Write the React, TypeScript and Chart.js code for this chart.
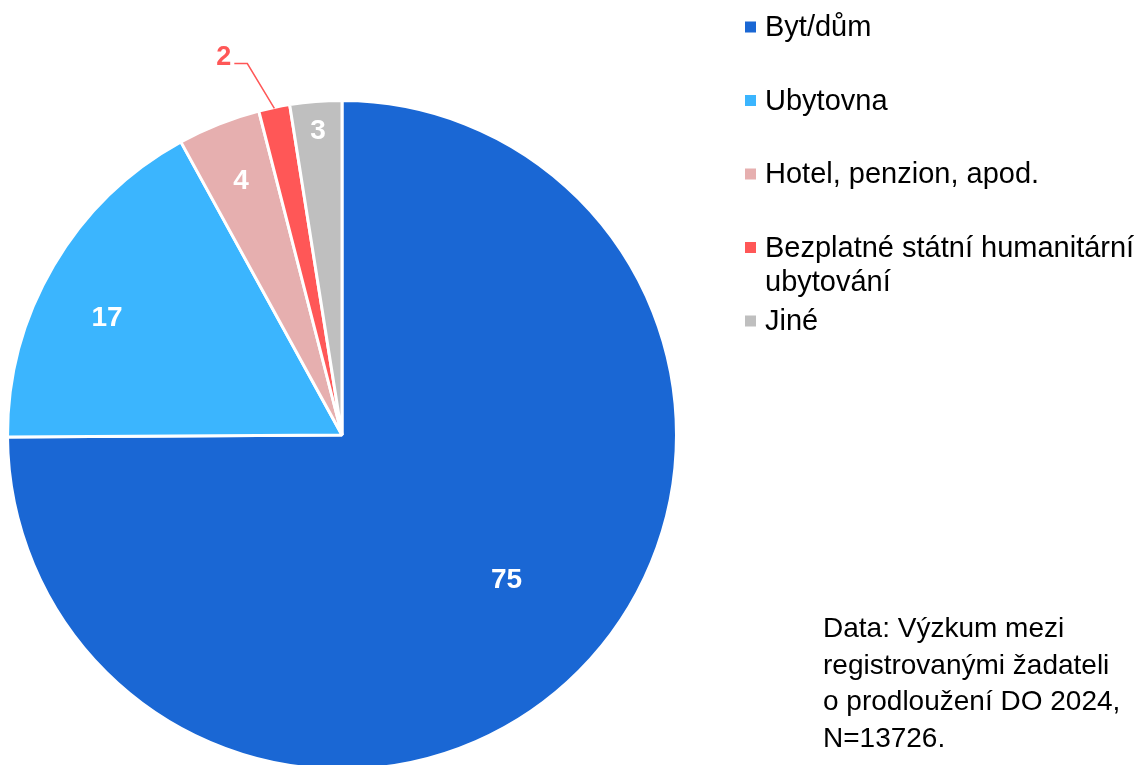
import React, { useEffect, useRef } from "react";
import { Chart, registerables } from "chart.js";

Chart.register(...registerables);

const categories = [
  "Byt/dům",
  "Ubytovna",
  "Hotel, penzion, apod.",
  "Bezplatné státní humanitární ubytování",
  "Jiné",
];
const legendLines = [
  ["Byt/dům"],
  ["Ubytovna"],
  ["Hotel, penzion, apod."],
  ["Bezplatné státní humanitární", "ubytování"],
  ["Jiné"],
];
const values = [74.9, 17.1, 4.0, 1.5, 2.5];
const colors = ["#1A67D4", "#3BB5FE", "#E6AFAF", "#FF5757", "#BFBFBF"];
const noteLines = [
  "Data: Výzkum mezi",
  "registrovanými žadateli",
  "o prodloužení DO 2024,",
  "N=13726.",
];

const FONT = '"Liberation Sans", Arial, sans-serif';

// label placement: [radial fraction, angle offset in degrees, outside]
const labelPlacement: [number, number, boolean][] = [
  [0.655, -3.5, false],
  [0.786, -3.8, false],
  [0.82, 0, false],
  [1.146, -2.6, true],
  [0.915, 0, false],
];

const overlayPlugin = {
  id: "overlay",
  afterDatasetsDraw(chart: any) {
    const ctx = chart.ctx;
    const meta = chart.getDatasetMeta(0);
    ctx.save();
    meta.data.forEach((arc: any, i: number) => {
      const { x, y, startAngle, endAngle, outerRadius } = arc.getProps(
        ["x", "y", "startAngle", "endAngle", "outerRadius"],
        true
      );
      const r = outerRadius;
      const mid = (startAngle + endAngle) / 2;
      const [frac, off, outside] = labelPlacement[i];
      const text = String(Math.round(values[i]));
      if (!outside) {
        const a = mid + (off * Math.PI) / 180;
        ctx.fillStyle = "#FFFFFF";
        ctx.font = `bold 28px ${FONT}`;
        ctx.textAlign = "center";
        ctx.textBaseline = "middle";
        ctx.fillText(text, x + Math.cos(a) * r * frac, y + Math.sin(a) * r * frac + 1);
      } else {
        const a = mid + (off * Math.PI) / 180;
        const sx = x + Math.cos(mid) * (r - 1);
        const sy = y + Math.sin(mid) * (r - 1);
        const ex = x + Math.cos(a) * r * frac;
        const ey = y + Math.sin(a) * r * frac;
        ctx.strokeStyle = colors[i];
        ctx.lineWidth = 1.5;
        ctx.beginPath();
        ctx.moveTo(sx, sy);
        ctx.lineTo(ex, ey);
        ctx.lineTo(ex - 13, ey);
        ctx.stroke();
        ctx.fillStyle = colors[i];
        ctx.font = `bold 27px ${FONT}`;
        ctx.textAlign = "right";
        ctx.textBaseline = "alphabetic";
        ctx.fillText(text, ex - 16, ey + 1);
      }
    });

    // legend
    ctx.font = `29px ${FONT}`;
    ctx.textAlign = "left";
    ctx.textBaseline = "alphabetic";
    legendLines.forEach((lines, i) => {
      const base = 36 + i * 73.5;
      ctx.fillStyle = colors[i];
      ctx.fillRect(745, base - 14.5, 11, 11);
      ctx.fillStyle = "#000000";
      lines.forEach((ln, j) => {
        ctx.fillText(ln, 765, base + j * 34.5);
      });
    });

    // note
    ctx.font = `28px ${FONT}`;
    ctx.fillStyle = "#000000";
    noteLines.forEach((ln, i) => {
      ctx.fillText(ln, 823, 637 + i * 36.7);
    });
    ctx.restore();
  },
};

export default function App() {
  const ref = useRef<HTMLCanvasElement>(null);
  useEffect(() => {
    if (!ref.current) return;
    const chart = new Chart(ref.current, {
      type: "pie",
      data: {
        labels: categories,
        datasets: [
          {
            data: values,
            backgroundColor: colors,
            borderColor: "#FFFFFF",
            borderWidth: 3,
            hoverOffset: 0,
            offset: 0,
          },
        ],
      },
      options: {
        responsive: false,
        animation: false,
        radius: 334.5,
        layout: { padding: { left: 7.5, top: 100.5, right: 464.5, bottom: 5.5 } },
        plugins: {
          legend: { display: false },
          tooltip: { enabled: false },
        },
        events: [],
      } as any,
      plugins: [overlayPlugin],
    });
    return () => chart.destroy();
  }, []);
  return (
    <div
      style={{
        position: "absolute",
        left: 0,
        top: 0,
        width: 1141,
        height: 765,
        overflow: "hidden",
        background: "#FFFFFF",
      }}
    >
      <canvas
        ref={ref}
        width={1141}
        height={775}
        style={{ position: "absolute", left: 0, top: 0, width: 1141, height: 775 }}
      />
    </div>
  );
}
